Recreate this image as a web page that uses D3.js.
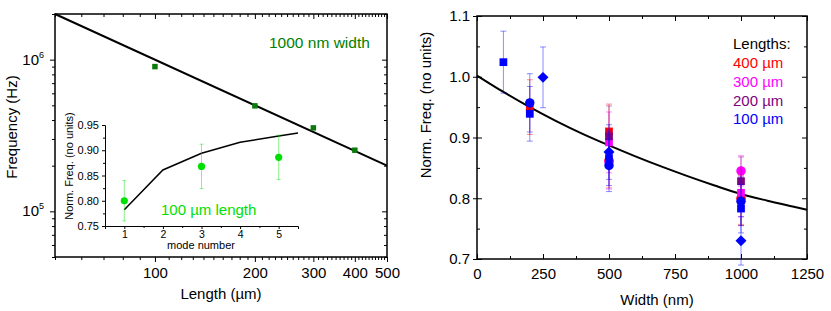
<!DOCTYPE html>
<html>
<head>
<meta charset="utf-8">
<script src="https://cdn.jsdelivr.net/npm/d3@7"></script>
<style>
  body { margin:0; background:#fff }
  text { font-family:"Liberation Sans", Arial, sans-serif }
</style>
</head>
<body>
<svg id="chart" width="831" height="311"></svg>
<script>
// ---- left panel: frequency vs length (1000 nm width)
var lenTicks = [100, 200, 300, 400, 500]
var lenVals  = [100, 200, 300, 400]
var freqVals = [9.0e5, 4.96e5, 3.55e5, 2.53e5]
var freqErr  = [2.5e4, 1.2e4, 1.0e4, 6e3]
var fitLen   = [50, 500]
var fitFreq  = [2.0e6, 2.0e5]

// inset: norm. freq vs mode number (100 um length)
var modeTicks   = [1, 2, 3, 4, 5]
var modeNum     = [1, 3, 5]
var modeFreq    = [0.800, 0.868, 0.886]
var modeErr     = [0.040, 0.044, 0.044]
var theoryMode  = [1, 2, 3, 4, 5, 5.5]
var theoryFreq  = [0.782, 0.861, 0.894, 0.916, 0.928, 0.934]
var insetYTicks = [0.75, 0.80, 0.85, 0.90, 0.95]

// ---- right panel: norm. freq vs width
var widthTicks = [0, 250, 500, 750, 1000, 1250]
var normTicks  = [0.7, 0.8, 0.9, 1.0, 1.1]
var fitWidth   = [0, 100, 200, 300, 400, 500, 600, 700, 800, 900, 1000, 1100, 1200, 1250]
var fitNorm    = [1.002, 0.975, 0.950, 0.927, 0.906, 0.887, 0.869, 0.852, 0.836, 0.821, 0.807, 0.796, 0.786, 0.781]

// [width, norm freq, error, marker]
var len400 = [[200, 0.950, 0.045, 'square'], [500, 0.910, 0.045, 'square'], [500, 0.862, 0.045, 'circle'],
              [1000, 0.797, 0.040, 'square'], [1000, 0.800, 0.045, 'circle']]
var len300 = [[500, 0.892, 0.050, 'square'], [500, 0.860, 0.045, 'circle'],
              [1000, 0.845, 0.025, 'circle'], [1000, 0.809, 0.040, 'square']]
var len200 = [[500, 0.902, 0.050, 'square'], [1000, 0.828, 0.040, 'square']]
var len100 = [[100, 1.024, 0.051, 'square'], [200, 0.957, 0.048, 'circle'], [200, 0.939, 0.045, 'square'],
              [250, 0.999, 0.050, 'diamond'], [500, 0.876, 0.045, 'diamond'], [500, 0.866, 0.045, 'square'],
              [500, 0.854, 0.043, 'circle'], [1000, 0.795, 0.040, 'circle'], [1000, 0.783, 0.040, 'square'],
              [1000, 0.730, 0.040, 'diamond']]
var lengthNames  = ['400 µm', '300 µm', '200 µm', '100 µm']
var lengthColors = ['#ff0000', '#ff00ff', '#800080', '#0000ff']
var lengthSets   = [len400, len300, len200, len100]

var svg = d3.select('#chart')

function minorLog(lo, hi) {
    var out = []
    for (var p = 1; p <= 7; p++)
        for (var k = 1; k < 10; k++) {
            var v = k * Math.pow(10, p)
            if (v >= lo && v <= hi) out.push(v)
        }
    return out
}

function tickAxis(g, axis, tr, fs) {
    g.append('g').attr('transform', tr).call(axis)
        .call(a => a.select('.domain').remove())
        .call(a => a.selectAll('line').attr('stroke', '#000'))
        .call(a => a.selectAll('text').attr('font-size', fs || 14).attr('fill', '#000')
            .style('font-family', '"Liberation Sans", Arial, sans-serif'))
}

// ================= LEFT PANEL =================
var xL = d3.scaleLog().domain([50, 500]).range([55, 387])
var yL = d3.scaleLog().domain([5e4, 2e6]).range([257, 14])
var gl = svg.append('g')

var lenMinor = d3.range(50, 501, 10).filter(v => lenTicks.indexOf(v) < 0)
var freqMinor = minorLog(5e4, 2e6).filter(v => v != 1e5 && v != 1e6)

tickAxis(gl, d3.axisBottom(xL).tickValues(lenTicks).tickSize(5).tickPadding(5).tickFormat(d3.format('d')), 'translate(0,257)', 15)
tickAxis(gl, d3.axisBottom(xL).tickValues(lenMinor).tickSize(3).tickFormat(''), 'translate(0,257)')
tickAxis(gl, d3.axisTop(xL).tickValues(lenTicks).tickSize(-5).tickFormat(''), 'translate(0,14)')
tickAxis(gl, d3.axisTop(xL).tickValues(lenMinor).tickSize(-3).tickFormat(''), 'translate(0,14)')
tickAxis(gl, d3.axisLeft(yL).tickValues([1e5, 1e6]).tickSize(5).tickFormat(''), 'translate(55,0)')
tickAxis(gl, d3.axisLeft(yL).tickValues(freqMinor).tickSize(3).tickFormat(''), 'translate(55,0)')
tickAxis(gl, d3.axisRight(yL).tickValues([1e5, 1e6]).tickSize(-5).tickFormat(''), 'translate(387,0)')
tickAxis(gl, d3.axisRight(yL).tickValues(freqMinor).tickSize(-3).tickFormat(''), 'translate(387,0)')

// power-of-ten labels
;[[1e5, 5], [1e6, 6]].forEach(function(d) {
    var t = gl.append('text').attr('x', 44).attr('y', yL(d[0]) + 5)
        .attr('text-anchor', 'end').attr('font-size', 15).text('10')
    t.append('tspan').attr('font-size', 9).attr('dy', -7).text(d[1])
})

gl.append('rect').attr('x', 55).attr('y', 14).attr('width', 332).attr('height', 243)
    .attr('fill', 'none').attr('stroke', '#000').attr('stroke-width', 1.5)

// fit line
gl.append('path')
    .attr('d', d3.line().x((d, i) => xL(fitLen[i])).y((d, i) => yL(fitFreq[i]))(fitLen))
    .attr('fill', 'none').attr('stroke', '#000').attr('stroke-width', 2)

// measured points
lenVals.forEach(function(L, i) {
    gl.append('line').attr('x1', xL(L)).attr('x2', xL(L))
        .attr('y1', yL(freqVals[i] - freqErr[i])).attr('y2', yL(freqVals[i] + freqErr[i]))
        .attr('stroke', '#0a7a0a').attr('stroke-width', 1)
    gl.append('path').attr('transform', 'translate(' + xL(L) + ',' + yL(freqVals[i]) + ')')
        .attr('d', d3.symbol().type(d3.symbolSquare).size(30)())
        .attr('fill', '#0a7a0a')
})

gl.append('text').attr('x', 269).attr('y', 48).attr('font-size', 15.5)
    .attr('fill', '#008000').text('1000 nm width')

gl.append('text').attr('transform', 'translate(17,127) rotate(-90)')
    .attr('text-anchor', 'middle').attr('font-size', 15).text('Frequency (Hz)')
gl.append('text').attr('x', 221).attr('y', 299)
    .attr('text-anchor', 'middle').attr('font-size', 15).text('Length (µm)')

// ---- inset
var xI = d3.scaleLinear().domain([0.5, 5.5]).range([105, 298])
var yI = d3.scaleLinear().domain([0.75, 0.95]).range([226, 125])
var gi = svg.append('g')

gi.append('g').attr('transform', 'translate(0,226)')
    .call(d3.axisBottom(xI).tickValues(modeTicks).tickSize(3).tickPadding(2).tickFormat(d3.format('d')))
    .call(a => a.selectAll('text').attr('font-size', 10.5).style('font-family', '"Liberation Sans", Arial, sans-serif'))
gi.append('g').attr('transform', 'translate(0,226)')
    .call(d3.axisBottom(xI).tickValues(d3.range(1.5, 5.5, 1)).tickSize(2).tickFormat(''))
    .call(a => a.select('.domain').remove())
gi.append('g').attr('transform', 'translate(105,0)')
    .call(d3.axisLeft(yI).tickValues(insetYTicks).tickSize(3).tickPadding(3).tickFormat(d3.format('.2f')))
    .call(a => a.selectAll('text').attr('font-size', 11).style('font-family', '"Liberation Sans", Arial, sans-serif'))
gi.append('g').attr('transform', 'translate(105,0)')
    .call(d3.axisLeft(yI).tickValues([0.775, 0.825, 0.875, 0.925]).tickSize(2).tickFormat(''))
    .call(a => a.select('.domain').remove())
gi.selectAll('.domain').attr('stroke-width', 1)

gi.append('path')
    .attr('d', d3.line().x((d, i) => xI(theoryMode[i])).y((d, i) => yI(theoryFreq[i]))(theoryMode))
    .attr('fill', 'none').attr('stroke', '#000').attr('stroke-width', 1.5)

modeNum.forEach(function(m, i) {
    gi.append('line').attr('x1', xI(m)).attr('x2', xI(m))
        .attr('y1', yI(modeFreq[i] - modeErr[i])).attr('y2', yI(modeFreq[i] + modeErr[i]))
        .attr('stroke', '#00e000').attr('stroke-opacity', 0.45)
    ;[-1, 1].forEach(s => gi.append('line')
        .attr('x1', xI(m) - 2).attr('x2', xI(m) + 2)
        .attr('y1', yI(modeFreq[i] + s * modeErr[i])).attr('y2', yI(modeFreq[i] + s * modeErr[i]))
        .attr('stroke', '#00e000').attr('stroke-opacity', 0.45))
    gi.append('circle').attr('cx', xI(m)).attr('cy', yI(modeFreq[i])).attr('r', 3.6).attr('fill', '#00e000')
})

gi.append('text').attr('x', 161).attr('y', 215).attr('font-size', 15)
    .attr('fill', '#00e000').text('100 µm length')
gi.append('text').attr('x', 201).attr('y', 249).attr('text-anchor', 'middle')
    .attr('font-size', 11).text('mode number')
gi.append('text').attr('transform', 'translate(73,166) rotate(-90)')
    .attr('text-anchor', 'middle').attr('font-size', 11).text('Norm. Freq. (no units)')

// ================= RIGHT PANEL =================
var xR = d3.scaleLinear().domain([0, 1250]).range([477, 807])
var yR = d3.scaleLinear().domain([0.7, 1.1]).range([259, 16])
var gr = svg.append('g')

var widthMinor = d3.range(125, 1250, 250)
var normMinor  = [0.75, 0.85, 0.95, 1.05]

tickAxis(gr, d3.axisBottom(xR).tickValues(widthTicks).tickSize(-5).tickPadding(9).tickFormat(d3.format('d')), 'translate(0,259)', 15)
tickAxis(gr, d3.axisBottom(xR).tickValues(widthMinor).tickSize(-3).tickFormat(''), 'translate(0,259)')
tickAxis(gr, d3.axisTop(xR).tickValues(widthTicks).tickSize(-5).tickFormat(''), 'translate(0,16)')
tickAxis(gr, d3.axisTop(xR).tickValues(widthMinor).tickSize(-3).tickFormat(''), 'translate(0,16)')
tickAxis(gr, d3.axisLeft(yR).tickValues(normTicks).tickSize(4).tickPadding(3).tickFormat(d3.format('.1f')), 'translate(477,0)', 15)
tickAxis(gr, d3.axisLeft(yR).tickValues(normTicks).tickSize(-5).tickFormat(''), 'translate(477,0)')
tickAxis(gr, d3.axisLeft(yR).tickValues(normMinor).tickSize(-3).tickFormat(''), 'translate(477,0)')
tickAxis(gr, d3.axisRight(yR).tickValues(normTicks).tickSize(-5).tickFormat(''), 'translate(807,0)')
tickAxis(gr, d3.axisRight(yR).tickValues(normMinor).tickSize(-3).tickFormat(''), 'translate(807,0)')

gr.append('rect').attr('x', 477).attr('y', 16).attr('width', 330).attr('height', 243)
    .attr('fill', 'none').attr('stroke', '#000').attr('stroke-width', 1.5)

gr.append('path')
    .attr('d', d3.line().curve(d3.curveMonotoneX).x((d, i) => xR(fitWidth[i])).y((d, i) => yR(fitNorm[i]))(fitWidth))
    .attr('fill', 'none').attr('stroke', '#000').attr('stroke-width', 2)

var shapes = { square: d3.symbolSquare, circle: d3.symbolCircle, diamond: d3.symbolSquare }

lengthSets.forEach(function(set, k) {
    var c = lengthColors[k]
    set.forEach(function(d) {
        var x = xR(d[0]), y0 = yR(d[1] - d[2]), y1 = yR(d[1] + d[2])
        gr.append('line').attr('x1', x).attr('x2', x).attr('y1', y0).attr('y2', y1)
            .attr('stroke', c).attr('stroke-opacity', 0.45)
        ;[y0, y1].forEach(yy => gr.append('line').attr('x1', x - 3).attr('x2', x + 3)
            .attr('y1', yy).attr('y2', yy).attr('stroke', c).attr('stroke-opacity', 0.45))
    })
    set.forEach(function(d) {
        gr.append('path')
            .attr('transform', 'translate(' + xR(d[0]) + ',' + yR(d[1]) + ')' + (d[3] == 'diamond' ? ' rotate(45)' : ''))
            .attr('d', d3.symbol().type(shapes[d[3]]).size(d[3] == 'circle' ? 70 : 60)())
            .attr('fill', c)
    })
})

gr.append('text').attr('x', 733).attr('y', 49).attr('font-size', 15).text('Lengths:')
lengthNames.forEach(function(n, i) {
    gr.append('text').attr('x', 733).attr('y', 68 + i * 18.8).attr('font-size', 15)
        .attr('fill', lengthColors[i]).text(n)
})

gr.append('text').attr('transform', 'translate(431,105) rotate(-90)')
    .attr('text-anchor', 'middle').attr('font-size', 15).text('Norm. Freq. (no units)')
gr.append('text').attr('x', 657).attr('y', 305)
    .attr('text-anchor', 'middle').attr('font-size', 15).text('Width (nm)')
</script>
</body>
</html>
